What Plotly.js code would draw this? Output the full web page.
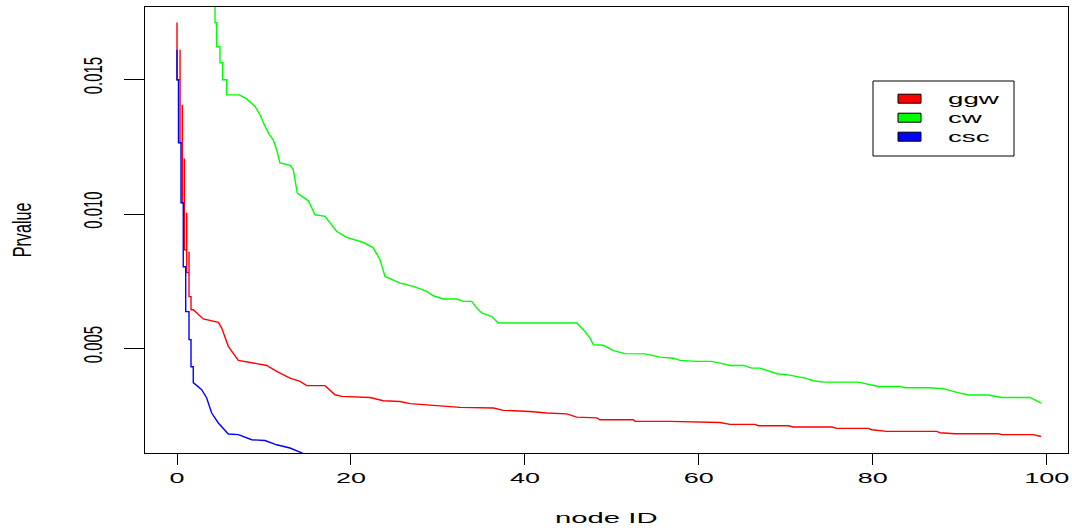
<!DOCTYPE html>
<html>
<head>
<meta charset="utf-8">
<script src="https://cdn.plot.ly/plotly-3.0.1.min.js"></script>
<style>
html,body{margin:0;padding:0;background:#ffffff;}
#chart{width:1072px;height:531px;}
</style>
</head>
<body>
<div id="chart"></div>
<script>
// ---- data ----
const seriesNames = ['ggw', 'cw', 'csc'];
const seriesColors = ['#ff0000', '#00ff00', '#0000ff'];

const ggwX = [0,0,0.35,0.35,0.35,0.61,0.61,0.61,0.84,0.84,0.84,1.12,1.12,1.12,1.38,1.38,1.38,1.61,1.61,1.87,3.02,4.75,5.14,5.90,7.05,
  8.77,10.31,11.46,12.99,14.14,14.91,17.02,18.17,18.94,22.19,23.72,25.64,26.79,30.62,32.54,36.37,37.52,40.59,42.51,44.81,
  45.96,48.26,48.64,52.47,52.66,56.69,60.14,62.43,63.58,66.46,66.84,70.29,70.87,75.28,75.85,79.49,79.88,81.6,87.35,87.73,
  89.46,94.44,94.82,98.46,99.34];
const ggwP = [0.01712,0.01499,0.01499,0.01611,0.01265,0.01265,0.01406,0.01042,0.01042,0.01206,0.00867,0.00867,0.01005,0.00782,0.00782,0.00860,0.00693,0.00693,0.00644,0.00644,0.00610,0.00597,0.00576,0.00508,0.00456,
  0.00446,0.00437,0.00415,0.00390,0.00378,0.00362,0.00362,0.00328,0.00322,0.00318,0.00306,0.00303,0.00295,0.00287,0.00281,0.00279,0.00270,0.00266,0.00260,0.00257,
  0.00245,0.00242,0.00235,0.00235,0.00229,0.00229,0.00225,0.00225,0.00218,0.00218,0.00213,0.00213,0.00208,0.00208,0.00203,0.00203,0.00198,0.00192,0.00192,0.00187,
  0.00183,0.00183,0.00180,0.00180,0.00173];

const cwX = [4.37,4.37,4.56,4.56,4.94,4.94,5.25,5.25,5.71,5.71,7.16,
  8.01,8.97,9.54,10.12,10.61,11.07,11.46,11.84,12.99,13.37,13.83,15.1,15.87,17.02,18.36,19.51,21.42,22.57,23.34,23.92,
  25.64,27.17,28.71,29.47,30.62,32.16,32.92,33.88,34.46,35.03,36.18,36.94,45.96,46.72,47.49,47.87,49.02,50.17,51.51,53.81,
  55.54,57.07,57.84,59.76,61.48,62.82,63.58,65.11,66.08,67.03,68.18,68.95,70.1,71.25,72.21,73.16,74.31,78.34,79.11,80.64,
  83.13,83.71,86.39,88.11,89.65,90.99,93.29,94.82,98.08,99.34];
const cwP = [0.0187,0.01711,0.01711,0.01622,0.01622,0.01562,0.01562,0.01499,0.01499,0.01443,0.01443,
  0.01428,0.01400,0.01369,0.01326,0.01295,0.01276,0.01239,0.01190,0.01181,0.01165,0.01078,0.01049,0.00997,0.00991,0.00935,0.00913,0.00894,0.00874,0.00830,0.00768,
  0.00743,0.00731,0.00712,0.00696,0.00684,0.00684,0.00675,0.00675,0.00651,0.00632,0.00619,0.00595,0.00595,0.00570,0.00539,0.00514,0.00512,0.00492,0.00481,0.00480,
  0.00468,0.00464,0.00456,0.00452,0.00452,0.00443,0.00437,0.00437,0.00427,0.00427,0.00415,0.00406,0.00403,0.00396,0.00390,0.00380,0.00375,0.00375,0.00369,0.00359,
  0.00359,0.00354,0.00354,0.00351,0.00337,0.00327,0.00327,0.00318,0.00318,0.00297];

const cscX = [0,0,0.17,0.17,0.46,0.46,0.72,0.72,1.0,1.0,1.38,1.38,1.61,1.61,1.87,1.87,2.84,3.41,3.99,4.75,
  5.90,7.05,8.59,10.12,11.46,12.99,14.34,15.87,20];
const cscP = [0.01611,0.01499,0.01499,0.01265,0.01265,0.01042,0.01042,0.00804,0.00804,0.00637,0.00637,0.00533,0.00533,0.00432,0.00432,0.00373,0.00347,0.00316,0.00260,0.00223,
  0.00182,0.00180,0.00161,0.00158,0.00142,0.00130,0.00112,0.00087,0.0007];

const xTickVals = [0, 20, 40, 60, 80, 100];
const yTickVals = [0.005, 0.010, 0.015];
const yTickText = ['0.005', '0.010', '0.015'];
const xTitle = 'node ID';
const yTitle = 'Prvalue';

// ---- layout helpers (pixel -> paper) ----
const W = 1072, H = 531;
const M = {l: 145, r: 4, t: 7, b: 78};
const PW = W - M.l - M.r, PH = H - M.t - M.b;
const px = v => (v - M.l) / PW;
const py = v => 1 - (v - M.t) / PH;

const xs = [ggwX, cwX, cscX];
const ys = [ggwP, cwP, cscP];
const traces = seriesNames.map((n, i) => ({
  type: 'scatter', mode: 'lines', name: n,
  x: xs[i], y: ys[i],
  line: {color: seriesColors[i], width: 1.4},
  showlegend: false, hoverinfo: 'skip'
}));

const FONT = 'Liberation Sans, Arial, sans-serif';
const shapes = [];
const annotations = [];
// legend box
shapes.push({type: 'rect', xref: 'paper', yref: 'paper', x0: px(873), x1: px(1014), y0: py(156), y1: py(81),
  line: {color: '#000', width: 1}, fillcolor: 'rgba(255,255,255,0)'});
const rowY = [98.7, 117.7, 136.7];
seriesNames.forEach((n, i) => {
  shapes.push({type: 'rect', xref: 'paper', yref: 'paper', x0: px(898), x1: px(921), y0: py(rowY[i] + 4.5), y1: py(rowY[i] - 4.5),
    line: {color: '#000', width: 1}, fillcolor: seriesColors[i]});
  annotations.push({xref: 'paper', yref: 'paper', x: px(946), y: py(rowY[i]), xanchor: 'left', yanchor: 'middle',
    align: 'left', showarrow: false, text: n, font: {family: FONT, size: 15, color: '#000'}});
});
// axis titles
annotations.push({xref: 'paper', yref: 'paper', x: px(606), y: py(517), xanchor: 'center', yanchor: 'middle',
  showarrow: false, text: xTitle, font: {family: FONT, size: 15, color: '#000'}});
annotations.push({xref: 'paper', yref: 'paper', x: px(22), y: py(230), xanchor: 'center', yanchor: 'middle',
  showarrow: false, textangle: -90, text: yTitle, font: {family: FONT, size: 26, color: '#000'}});

const layout = {
  width: W, height: H,
  margin: M,
  paper_bgcolor: '#fff', plot_bgcolor: '#fff',
  showlegend: false,
  xaxis: {
    range: [(145 - 177) / 8.697, (1068 - 177) / 8.697],
    tickvals: xTickVals, ticks: 'outside', ticklen: 11, tickwidth: 1, tickcolor: '#000',
    showgrid: false, zeroline: false, showline: true, mirror: true, linecolor: '#000', linewidth: 1,
    tickfont: {family: FONT, size: 15, color: '#000'}
  },
  yaxis: {
    range: [0.0011152, 0.017695],
    tickvals: yTickVals, ticktext: yTickText, tickangle: -90,
    ticks: 'outside', ticklen: 20, tickwidth: 1, tickcolor: '#000', ticklabelstandoff: 12,
    showgrid: false, zeroline: false, showline: true, mirror: true, linecolor: '#000', linewidth: 1,
    tickfont: {family: FONT, size: 26, color: '#000'}
  },
  shapes: shapes,
  annotations: annotations
};

const gd = document.getElementById('chart');
Plotly.newPlot(gd, traces, layout, {displayModeBar: false, staticPlot: true}).then(() => {
  const stretchEl = (t, factor) => {
    const len = t.getComputedTextLength();
    if (len > 0) {
      t.setAttribute('textLength', (len * factor).toFixed(1));
      t.setAttribute('lengthAdjust', 'spacingAndGlyphs');
    }
  };
  gd.querySelectorAll('.xtick text').forEach(t => stretchEl(t, 1.8));
  gd.querySelectorAll('.ytick text').forEach(t => stretchEl(t, 0.57));
  gd.querySelectorAll('.annotation-text').forEach(t => {
    const s = t.textContent;
    stretchEl(t, s === yTitle ? 0.62 : (s === xTitle ? 1.95 : 1.85));
  });
});
</script>
</body>
</html>
